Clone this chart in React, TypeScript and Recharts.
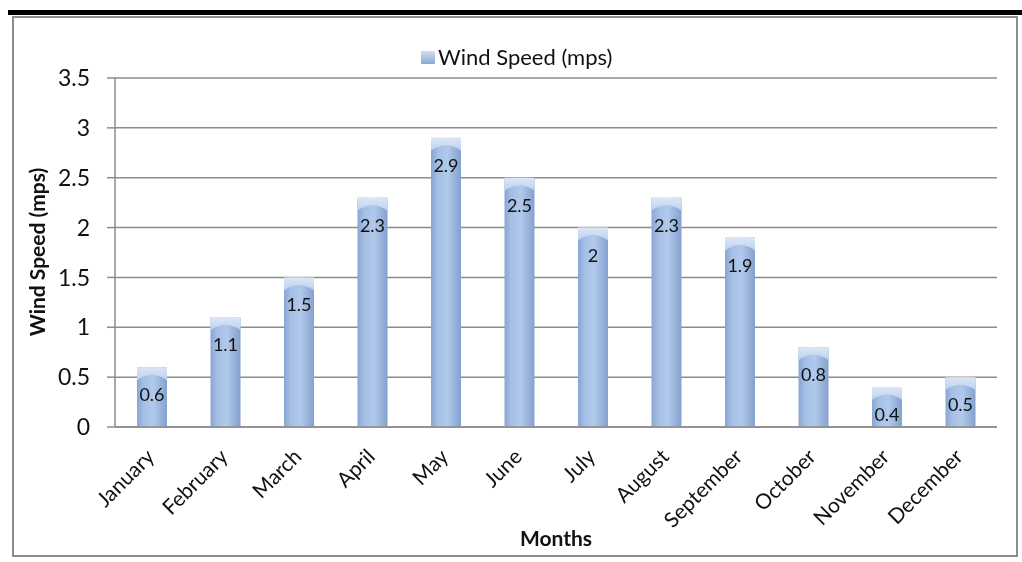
import { Bar, BarChart, CartesianGrid, LabelList, XAxis, YAxis } from "recharts";

const months = [
  "January", "February", "March", "April", "May", "June",
  "July", "August", "September", "October", "November", "December"
];
const windSpeed = [0.6, 1.1, 1.5, 2.3, 2.9, 2.5, 2, 2.3, 1.9, 0.8, 0.4, 0.5];
const yTicks = [0, 0.5, 1, 1.5, 2, 2.5, 3, 3.5];

const data = months.map((month, i) => ({ month, speed: windSpeed[i] }));

const FONT = "Lato, 'Open Sans', sans-serif";

function CylinderBar(props: any) {
  const { x, y, width, height } = props;
  if (height <= 0) return null;
  const cap = Math.min(13, height);
  return (
    <g>
      <rect x={x} y={y} width={width} height={height} fill="url(#barBody)" />
      <path
        d={`M${x},${y} L${x + width},${y} L${x + width},${y + cap} Q${x + width / 2},${y + 2} ${x},${y + cap} Z`}
        fill="url(#barCap)"
      />
    </g>
  );
}

function MonthTick(props: any) {
  const { x, y, payload } = props;
  const ax = x + 4;
  const ay = y + 23;
  return (
    <text
      x={ax}
      y={ay}
      transform={`rotate(-45 ${ax} ${ay})`}
      textAnchor="end"
      fontSize={21}
      fontFamily={FONT}
      fill="#111"
    >
      {payload.value}
    </text>
  );
}

function ValueLabel(props: any) {
  const { x, y, width, value } = props;
  return (
    <text x={x + width / 2} y={y + 34} textAnchor="middle" fontSize={18} fontFamily={FONT} fill="#111">
      {value}
    </text>
  );
}

function LegendBox() {
  return (
    <div
      style={{
        position: "absolute",
        left: 421,
        top: 44,
        display: "flex",
        alignItems: "center",
        fontFamily: FONT,
        fontSize: 22,
        lineHeight: "26px",
        color: "#111"
      }}
    >
      <span
        style={{
          display: "inline-block",
          width: 14,
          height: 13,
          marginRight: 3,
          background: "linear-gradient(to bottom, #d2dff2, #8aa7d3)"
        }}
      />
      Wind Speed (mps)
    </div>
  );
}

export default function App() {
  return (
    <div style={{ position: "absolute", left: 0, top: 0, width: 1022, height: 562, background: "#fff" }}>
      <div style={{ position: "fixed", left: 8, right: 0, top: 10, height: 5, background: "#000" }} />
      <div
        style={{
          position: "absolute",
          left: 12,
          top: 16,
          width: 1002,
          height: 537,
          border: "2px solid #8c8c8c"
        }}
      />
      <div style={{ position: "absolute", left: 0, top: 0 }}>
        <BarChart
          width={1022}
          height={562}
          data={data}
          margin={{ top: 78, right: 25, left: 55, bottom: 45 }}
          barCategoryGap={22}
        >
          <defs>
            <linearGradient id="barBody" x1="0" y1="0" x2="1" y2="0">
              <stop offset="0%" stopColor="#88a6d2" />
              <stop offset="22%" stopColor="#a5bfe5" />
              <stop offset="55%" stopColor="#b1c9eb" />
              <stop offset="100%" stopColor="#83a1ce" />
            </linearGradient>
            <linearGradient id="barCap" x1="0" y1="0" x2="0" y2="1">
              <stop offset="0%" stopColor="#dce7f6" />
              <stop offset="100%" stopColor="#bcd0ee" />
            </linearGradient>
          </defs>
          <CartesianGrid vertical={false} stroke="#8c8c8c" strokeWidth={1.5} />
          <XAxis
            dataKey="month"
            interval={0}
            tickLine={false}
            axisLine={{ stroke: "#8c8c8c", strokeWidth: 1.5 }}
            height={90}
            tick={<MonthTick />}
          />
          <YAxis
            domain={[0, 3.5]}
            ticks={yTicks}
            width={60}
            tickSize={8}
            tickMargin={17}
            tickLine={{ stroke: "#8c8c8c", strokeWidth: 1.5 }}
            axisLine={{ stroke: "#8c8c8c", strokeWidth: 1.5 }}
            tick={{ fontSize: 23, fontFamily: FONT, fill: "#111" }}
          />
          <Bar dataKey="speed" shape={<CylinderBar />} isAnimationActive={false}>
            <LabelList dataKey="speed" content={<ValueLabel />} />
          </Bar>
        </BarChart>
      </div>
      <LegendBox />
      <div
        style={{
          position: "absolute",
          left: 36,
          top: 252,
          transform: "translate(-50%, -50%) rotate(-90deg)",
          whiteSpace: "nowrap",
          fontFamily: FONT,
          fontWeight: 700,
          fontSize: 21,
          color: "#111"
        }}
      >
        Wind Speed (mps)
      </div>
      <div
        style={{
          position: "absolute",
          left: 556,
          top: 537,
          transform: "translate(-50%, -50%)",
          fontFamily: FONT,
          fontWeight: 700,
          fontSize: 21,
          color: "#111"
        }}
      >
        Months
      </div>
    </div>
  );
}
